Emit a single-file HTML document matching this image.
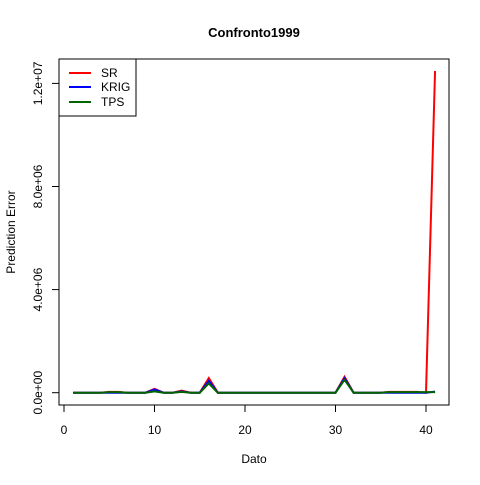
<!DOCTYPE html>
<html><head><meta charset="utf-8"><style>
body{margin:0;background:#fff}
svg text{font-family:"Liberation Sans",Arial,sans-serif}
</style></head><body>
<svg id="chart" width="480" height="480" xmlns="http://www.w3.org/2000/svg">
<rect width="480" height="480" fill="#fff"/>
<text x="254" y="37" font-size="13" font-weight="bold" text-anchor="middle">Confronto1999</text>
<text x="254" y="463" font-size="12" text-anchor="middle">Dato</text>
<text transform="translate(15,232) rotate(-90)" font-size="12" text-anchor="middle">Prediction Error</text>
<rect x="59" y="59" width="390" height="346" fill="none" stroke="#000"/>
<g id="axes"></g>
<g id="series"></g>
<g>
<rect x="59" y="59" width="77" height="57" fill="#fff" stroke="#000"/>
<line x1="69" y1="73" x2="91" y2="73" stroke="#f00" stroke-width="2"/>
<text x="101" y="77" font-size="12">SR</text>
<line x1="69" y1="87" x2="91" y2="87" stroke="#00f" stroke-width="2"/>
<text x="101" y="91" font-size="12">KRIG</text>
<line x1="69" y1="102" x2="91" y2="102" stroke="#006400" stroke-width="2"/>
<text x="101" y="106" font-size="12">TPS</text>
</g>
</svg>
<script>
const xTicks=[0,10,20,30,40];
const yTicks=[0,4e6,8e6,1.2e7];
const yTickLabels=["0.0e+00","4.0e+06","8.0e+06","1.2e+07"];
const srValues=[0,0,0,0,30000,30000,0,0,0,150000,0,0,80000,0,0,570000,0,0,0,0,0,0,0,0,0,0,0,0,0,0,620000,0,0,0,0,30000,30000,30000,30000,0,12480000];
const krigValues=[0,0,0,0,0,0,0,0,0,120000,0,0,50000,0,0,460000,0,0,0,0,0,0,0,0,0,0,0,0,0,0,560000,0,0,0,0,0,0,0,0,0,40000];
const tpsValues=[0,0,0,0,20000,20000,0,0,0,50000,0,0,30000,0,0,360000,0,0,0,0,0,0,0,0,0,0,0,0,0,0,500000,0,0,0,0,20000,20000,20000,20000,20000,20000];
const xs=v=>64+v*9.05;
const ys=v=>392.7-v/4e6*103.1;
const NS="http://www.w3.org/2000/svg";
const ax=document.getElementById('axes');
function mk(t,a,p){const e=document.createElementNS(NS,t);for(const k in a)e.setAttribute(k,a[k]);p.appendChild(e);return e;}
const xl=mk('line',{x1:xs(0),x2:xs(40),y1:405,y2:405,stroke:'#000'},ax);


xTicks.forEach(t=>{
 const l=mk('line',{x1:xs(t),x2:xs(t),y1:405,y2:412,stroke:'#000'},ax);
 
 
 const tx=mk('text',{x:xs(t),y:434,'font-size':12,'text-anchor':'middle'},ax);tx.textContent=t;
 
 
});
const yl=mk('line',{x1:59,x2:59,y1:ys(0),y2:ys(1.2e7),stroke:'#000'},ax);


yTicks.forEach((t,i)=>{
 const l=mk('line',{x1:52,x2:59,y1:ys(t),y2:ys(t),stroke:'#000'},ax);
 
 
 const tx=mk('text',{transform:`translate(42,${ys(t)}) rotate(-90)`,'font-size':12,'text-anchor':'middle'},ax);tx.textContent=yTickLabels[i];
 
 
});
const sg=document.getElementById('series');
[[srValues,'#f00','sr-line'],[krigValues,'#00f','krig-line'],[tpsValues,'#006400','tps-line']].forEach(([d,c,n])=>{
 const p=mk('polyline',{points:d.map((v,i)=>xs(i+1)+','+ys(v)).join(' '),fill:'none',stroke:c,'stroke-width':2},sg);
 
 
});
</script>
</body></html>
